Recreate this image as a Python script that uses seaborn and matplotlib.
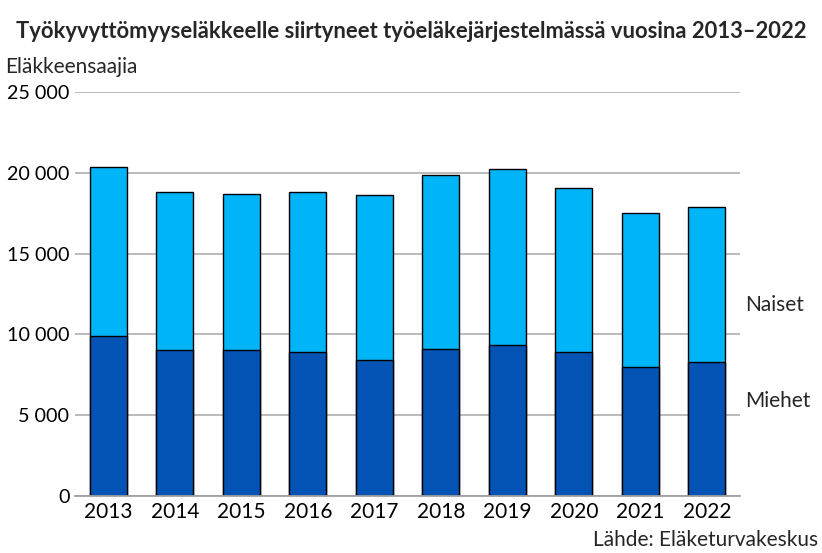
import numpy as np
import pandas as pd
import matplotlib
matplotlib.use("Agg")
import matplotlib.pyplot as plt
import seaborn as sns

years = ["2013", "2014", "2015", "2016", "2017", "2018", "2019", "2020", "2021", "2022"]
miehet = [9890, 9030, 9010, 8900, 8430, 9090, 9360, 8900, 8000, 8280]
naiset = [10490, 9770, 9660, 9940, 10180, 10800, 10900, 10180, 9500, 9590]

df = pd.DataFrame({"vuosi": years, "Miehet": miehet, "Naiset": naiset})
df["Yhteensä"] = df["Miehet"] + df["Naiset"]

sns.set_style("white")
plt.rcParams["font.family"] = ["Lato", "DejaVu Sans"]

fig = plt.figure(figsize=(8.22, 5.53), dpi=100)
ax = fig.add_axes([75 / 822, 1 - 496 / 553, 665 / 822, 404 / 553])

# totals first (women on top), then men over them
sns.barplot(data=df, x="vuosi", y="Yhteensä", color="#00B4F8", saturation=1,
            width=0.56, edgecolor="black", linewidth=1, ax=ax)
sns.barplot(data=df, x="vuosi", y="Miehet", color="#0353B4", saturation=1,
            width=0.56, edgecolor="black", linewidth=1, ax=ax)

ax.set_ylim(0, 25000)
ax.set_xlim(-0.5, 9.5)
ax.set_yticks(np.arange(0, 25001, 5000))
ax.set_yticklabels(["0", "5 000", "10 000", "15 000", "20 000", "25 000"])
ax.yaxis.grid(True, color="#b4b4b4", linewidth=1.3)
ax.set_axisbelow(True)
for s in ["top", "right", "left"]:
    ax.spines[s].set_visible(False)
ax.spines["bottom"].set_color("#a0a0a0")
ax.spines["bottom"].set_linewidth(1.3)
ax.tick_params(axis="x", length=0, labelsize=15, colors="black", pad=4)
ax.tick_params(axis="y", length=0, labelsize=14.2, colors="black", pad=4)
ax.set_xlabel("")
ax.set_ylabel("")

fig.text(0.5, 1 - 32 / 553, "Työkyvyttömyyseläkkeelle siirtyneet työeläkejärjestelmässä vuosina 2013–2022",
         ha="center", va="center", fontsize=15.8, fontweight="bold")
fig.text(5 / 822, 1 - 67 / 553, "Eläkkeensaajia", ha="left", va="center", fontsize=15)
fig.text(745 / 822, 1 - 305 / 553, "Naiset", ha="left", va="center", fontsize=15)
fig.text(745 / 822, 1 - 401 / 553, "Miehet", ha="left", va="center", fontsize=15)
fig.text(818 / 822, 1 - 540 / 553, "Lähde: Eläketurvakeskus", ha="right", va="center", fontsize=15)

fig.savefig("out.png", dpi=100)
